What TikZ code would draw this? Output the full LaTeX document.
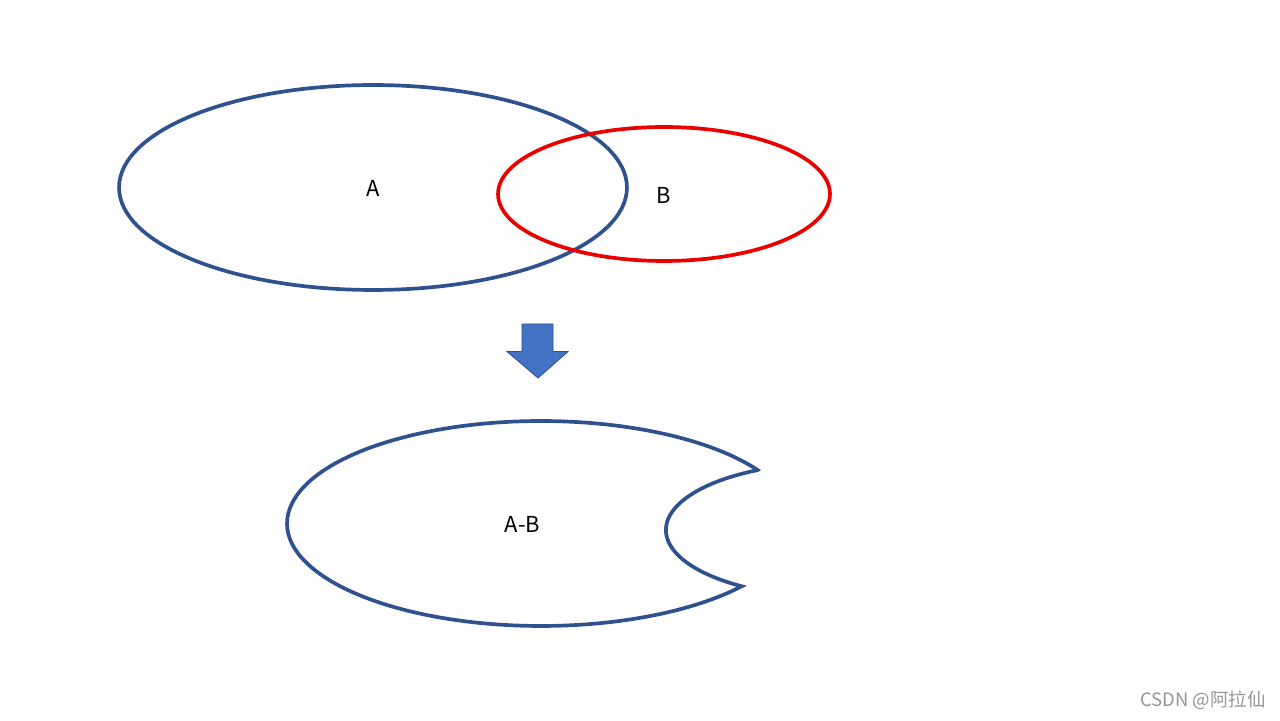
\documentclass[tikz,border=0pt]{standalone}
\usepackage{fontspec}
\setmainfont{Noto Sans CJK SC}
\begin{document}
\begin{tikzpicture}[x=0.02cm,y=0.02cm,
  setA/.style={draw={rgb,255:red,47;green,82;blue,143},line width=2.1pt},
  setB/.style={draw={rgb,255:red,235;green,0;blue,0},line width=2.1pt},
  lbl/.style={font=\fontsize{12.5}{14}\selectfont,text=black,inner sep=0pt},
  bigarrow/.style={fill={rgb,255:red,68;green,114;blue,196},draw={rgb,255:red,47;green,82;blue,143},line width=0.5pt,line join=miter}]
\useasboundingbox[fill=white] (0,0) rectangle (1280,720);
% set A and set B
\draw[setA] (373,532.5) ellipse[x radius=5.08cm,y radius=2.05cm];
\draw[setB] (664,526) ellipse[x radius=3.32cm,y radius=1.34cm];
\node[lbl] (la) at (373,532) {A};
\node[lbl] (lb) at (664,525) {B};
% down arrow
\draw[bigarrow] (522,396) -- (553,396) -- (553,368.5) -- (568,368.5) -- (538,342) -- (507,368.5) -- (522,368.5) -- cycle;
% A minus B
\draw[setA,line join=miter,miter limit=20] (541,196.5) ++(31.42:5.08cm and 2.05cm)
  arc[start angle=31.42,end angle=322.23,x radius=5.08cm,y radius=2.05cm]
  arc[start angle=237.1,end angle=116.57,x radius=3.32cm,y radius=1.34cm] -- cycle;
\node[lbl] (lab) at (522.5,196) {A-B};
% watermark
\node[font=\fontsize{10.5}{12}\selectfont,text={rgb,255:red,150;green,150;blue,150},anchor=east,inner sep=0pt] (wm) at (1266,20) {CSDN @阿拉仙};
\end{tikzpicture}
\end{document}
